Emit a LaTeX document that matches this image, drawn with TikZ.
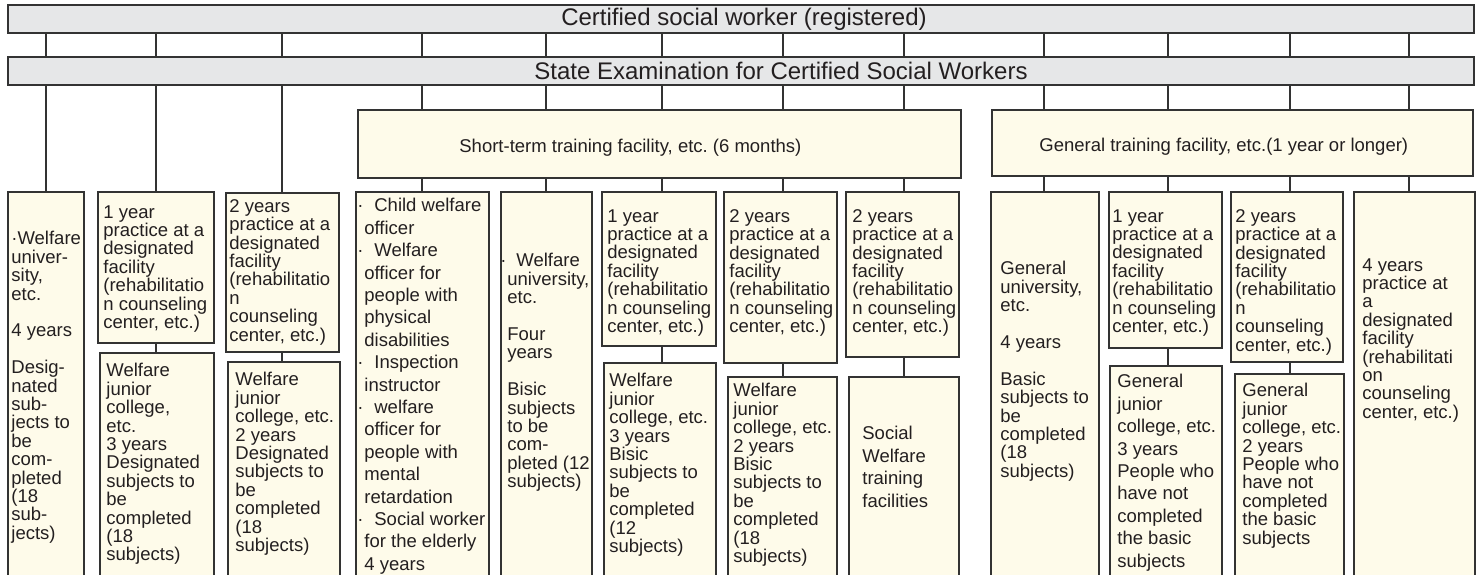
\documentclass[tikz,border=0pt]{standalone}
\usepackage{fontspec}
\setmainfont{Liberation Sans}
\usetikzlibrary{fit}
\definecolor{ink}{HTML}{231F20}
\definecolor{edge}{HTML}{333333}
\definecolor{cream}{HTML}{FEFBEA}
\definecolor{barfill}{HTML}{E6E7E8}
\newcommand{\bul}{\makebox[8.5pt][l]{·}}
\newcommand{\ind}{\hspace*{3.5pt}}
\frenchspacing
\begin{document}
\begin{tikzpicture}[x=0.5pt,y=-0.5pt,
  bar/.style={draw=edge,fill=barfill,line width=0.6pt,inner sep=0pt},
  box/.style={draw=edge,fill=cream,line width=0.6pt,inner sep=0pt},
  txt/.style={anchor=north west,inner sep=0pt,align=left,text=ink,font=\fontsize{9.25}{9.2}\selectfont},
  loose/.style={font=\fontsize{9.25}{11.2}\selectfont},
  head/.style={inner sep=0pt,text=ink,font=\fontsize{12}{14}\selectfont},
  link/.style={draw=edge,line width=0.6pt}]
  \clip (0,0) rectangle (1480,574);

  \node[bar,fit={(8,5) (1474,33)}] (cert) {};
  \node[bar,fit={(8,57) (1474,85)}] (exam) {};
  \node[head] (certtxt) at (744,19) {Certified social worker (registered)};
  \node[head] (examtxt) at (781,71) {State Examination for Certified Social Workers};

  \node[box,fit={(358,110) (961,178)}] (short) {};
  \node[box,fit={(992,110) (1473,176)}] (general) {};
  \node[txt,anchor=west] (shorttxt) at (459,148) {Short-term training facility, etc. (6 months)};
  \node[txt,anchor=west] (generaltxt) at (1039,147) {General training facility, etc.(1 year or longer)};

  \node[box,fit={(8,192) (84,590)}] (a) {};
  \node[box,fit={(98,192) (214,343)}] (b1) {};
  \node[box,fit={(100,353) (214,590)}] (b2) {};
  \node[box,fit={(226,193) (339,352)}] (c1) {};
  \node[box,fit={(228,362) (340,590)}] (c2) {};
  \node[box,fit={(356,192) (489,590)}] (d) {};
  \node[box,fit={(501,192) (592,590)}] (e) {};
  \node[box,fit={(602,192) (716,346)}] (f1) {};
  \node[box,fit={(604,363) (716,590)}] (f2) {};
  \node[box,fit={(724,192) (837,363)}] (g1) {};
  \node[box,fit={(728,377) (837,590)}] (g2) {};
  \node[box,fit={(846,192) (959,357)}] (h1) {};
  \node[box,fit={(849,377) (959,590)}] (h2) {};
  \node[box,fit={(991,192) (1099,590)}] (i) {};
  \node[box,fit={(1109,192) (1222,348)}] (j1) {};
  \node[box,fit={(1110,366) (1222,590)}] (j2) {};
  \node[box,fit={(1231,192) (1343,362)}] (k1) {};
  \node[box,fit={(1235,374) (1344,590)}] (k2) {};
  \node[box,fit={(1354,192) (1475,590)}] (l) {};

  \node[txt] (atxt) at (11,231) {·Welfare\\univer-\\sity,\\etc.\\[9.2pt]4 years\\[9.2pt]Desig-\\nated\\sub-\\jects to\\be\\com-\\pleted\\(18\\sub-\\jects)};
  \node[txt] (b1txt) at (103,205) {1 year\\practice at a\\designated\\facility\\(rehabilitatio\\n counseling\\center, etc.)};
  \node[txt] (b2txt) at (106,363) {Welfare\\junior\\college,\\etc.\\3 years\\Designated\\subjects to\\be\\completed\\(18\\subjects)};
  \node[txt] (c1txt) at (229,199) {2 years\\practice at a\\designated\\facility\\(rehabilitatio\\n\\counseling\\center, etc.)};
  \node[txt] (c2txt) at (235,372) {Welfare\\junior\\college, etc.\\2 years\\Designated\\subjects to\\be\\completed\\(18\\subjects)};
  \node[txt,loose] (dtxt) at (357,198) {\bul Child welfare\\\ind officer\\\bul Welfare\\\ind officer for\\\ind people with\\\ind physical\\\ind disabilities\\\bul Inspection\\\ind instructor\\\bul welfare\\\ind officer for\\\ind people with\\\ind mental\\\ind retardation\\\bul Social worker\\\ind for the elderly\\\ind 4 years};
  \node[txt] (etxt) at (500,253) {\makebox[8pt][l]{·}Welfare\\\ind university,\\\ind etc.\\[9.2pt]\ind Four\\\ind years\\[9.2pt]\ind Bisic\\\ind subjects\\\ind to be\\\ind com-\\\ind pleted (12\\\ind subjects)};
  \node[txt] (f1txt) at (607,209) {1 year\\practice at a\\designated\\facility\\(rehabilitatio\\n counseling\\center, etc.)};
  \node[txt] (f2txt) at (609,373) {Welfare\\junior\\college, etc.\\3 years\\Bisic\\subjects to\\be\\completed\\(12\\subjects)};
  \node[txt] (g1txt) at (729,209) {2 years\\practice at a\\designated\\facility\\(rehabilitatio\\n counseling\\center, etc.)};
  \node[txt] (g2txt) at (733,383) {Welfare\\junior\\college, etc.\\2 years\\Bisic\\subjects to\\be\\completed\\(18\\subjects)};
  \node[txt] (h1txt) at (852,209) {2 years\\practice at a\\designated\\facility\\(rehabilitatio\\n counseling\\center, etc.)};
  \node[txt,loose] (h2txt) at (862,426) {Social\\Welfare\\training\\facilities};
  \node[txt] (itxt) at (1000,261) {General\\university,\\etc.\\[9.2pt]4 years\\[9.2pt]Basic\\subjects to\\be\\completed\\(18\\subjects)};
  \node[txt] (j1txt) at (1112,209) {1 year\\practice at a\\designated\\facility\\(rehabilitatio\\n counseling\\center, etc.)};
  \node[txt,loose] (j2txt) at (1117,374) {General\\junior\\college, etc.\\3 years\\People who\\have not\\completed\\the basic\\subjects};
  \node[txt] (k1txt) at (1235,209) {2 years\\practice at a\\designated\\facility\\(rehabilitatio\\n\\counseling\\center, etc.)};
  \node[txt] (k2txt) at (1242,383) {General\\junior\\college, etc.\\2 years\\People who\\have not\\completed\\the basic\\subjects};
  \node[txt] (ltxt) at (1362,258) {4 years\\practice at\\a\\designated\\facility\\(rehabilitati\\on\\counseling\\center, etc.)};

  \foreach \x in {46,156,282,422,546,662,783,904,1044,1168,1290,1409}
    \draw[link] (cert.south -| \x,0) -- (exam.north -| \x,0);
  \foreach \x/\n in {46/a,156/b1,282/c1}
    \draw[link] (exam.south -| \x,0) -- (\n.north -| \x,0);
  \foreach \x in {422,546,662,783,904}
    \draw[link] (exam.south -| \x,0) -- (short.north -| \x,0);
  \foreach \x in {1044,1168,1290,1409}
    \draw[link] (exam.south -| \x,0) -- (general.north -| \x,0);
  \foreach \x/\n in {422/d,546/e,662/f1,783/g1,904/h1}
    \draw[link] (short.south -| \x,0) -- (\n.north -| \x,0);
  \foreach \x/\n in {1044/i,1168/j1,1290/k1,1409/l}
    \draw[link] (general.south -| \x,0) -- (\n.north -| \x,0);
  \foreach \x/\u/\v in {156/b1/b2,282/c1/c2,662/f1/f2,783/g1/g2,904/h1/h2,1168/j1/j2,1290/k1/k2}
    \draw[link] (\u.south -| \x,0) -- (\v.north -| \x,0);
\end{tikzpicture}
\end{document}
